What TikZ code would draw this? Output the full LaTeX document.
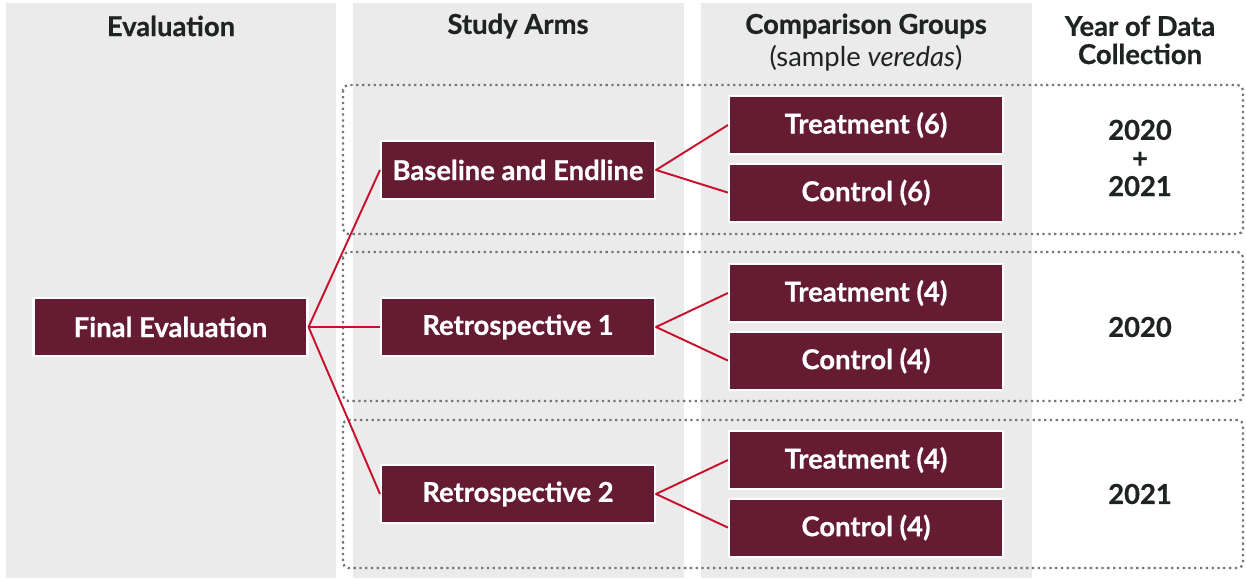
\documentclass[tikz,border=0pt]{standalone}
\usepackage{fontspec}
\setmainfont{Lato}[BoldFeatures={FakeBold=0.6}]
\usetikzlibrary{positioning}
\definecolor{EvalMaroon}{HTML}{651C32}
\definecolor{EvalRed}{HTML}{C8102E}
\definecolor{EvalGray}{HTML}{EBEBEB}
\definecolor{EvalDots}{HTML}{77777A}
\definecolor{EvalInk}{HTML}{1F2421}

\tikzset{
  armbox/.style={fill=EvalMaroon,draw=white,line width=1.2pt,text=white,font=\bfseries\fontsize{15.6}{17}\selectfont,
    minimum width=5.48cm,minimum height=1.16cm,inner sep=0pt},
  header/.style={text=EvalInk,font=\bfseries\fontsize{15.6}{16}\selectfont,align=center},
  yearlabel/.style={text=EvalInk,font=\bfseries\fontsize{15.6}{16}\selectfont,align=center},
  rowframe/.style={draw=EvalDots,dotted,line width=1.3pt,rounded corners=3pt},
  link/.style={EvalRed,line width=1.1pt}
}

\begin{document}
\begin{tikzpicture}[x=0.02cm,y=-0.02cm,line join=round]
  \useasboundingbox[fill=white] (0,0) rectangle (1246,578);
  % column backgrounds
  \fill[EvalGray] (6,3) rectangle (336,578);
  \fill[EvalGray] (353,3) rectangle (684,578);
  \fill[EvalGray] (701,3) rectangle (1032,578);

  % headers
  \node[header] (hEval) at (171,26) {Evaluation};
  \node[header] (hArms) at (518,26) {Study Arms};
  \node[header] (hComp) at (866,26) {Comparison Groups};
  \node[text=EvalInk,font=\fontsize{15.6}{16}\selectfont,below=-3pt of hComp] (hSample) {(sample \textit{veredas})};
  \node[header] (hYear) at (1140,40) {Year of Data\\Collection};

  % row frames
  \draw[rowframe] (343,85) rectangle (1243,234);
  \draw[rowframe] (343,252) rectangle (1243,401);
  \draw[rowframe] (343,420) rectangle (1243,568);

  % boxes
  \node[armbox] (final) at (170.5,327) {Final Evaluation};
  \node[armbox] (base) at (518,170) {Baseline and Endline};
  \node[armbox] (retroA) at (518,327) {Retrospective 1};
  \node[armbox] (retroB) at (518,494) {Retrospective 2};
  \node[armbox] (treatBase) at (866,125) {Treatment (6)};
  \node[armbox,below=0.15cm of treatBase] (ctrlBase) {Control (6)};
  \node[armbox] (treatA) at (866,293) {Treatment (4)};
  \node[armbox,below=0.15cm of treatA] (ctrlA) {Control (4)};
  \node[armbox] (treatB) at (866,460) {Treatment (4)};
  \node[armbox,below=0.15cm of treatB] (ctrlB) {Control (4)};

  % years
  \node[yearlabel] (yBase) at (1140,158) {2020\\+\\2021};
  \node[yearlabel] (yA) at (1140,327) {2020};
  \node[yearlabel] (yB) at (1140,494) {2021};

  % connectors
  \foreach \arm in {base,retroA,retroB}
    \draw[link] (final.east) -- (\arm.west);
  \draw[link] (treatBase.west) -- (base.east) -- (ctrlBase.west);
  \draw[link] (treatA.west) -- (retroA.east) -- (ctrlA.west);
  \draw[link] (treatB.west) -- (retroB.east) -- (ctrlB.west);
\end{tikzpicture}
\end{document}
